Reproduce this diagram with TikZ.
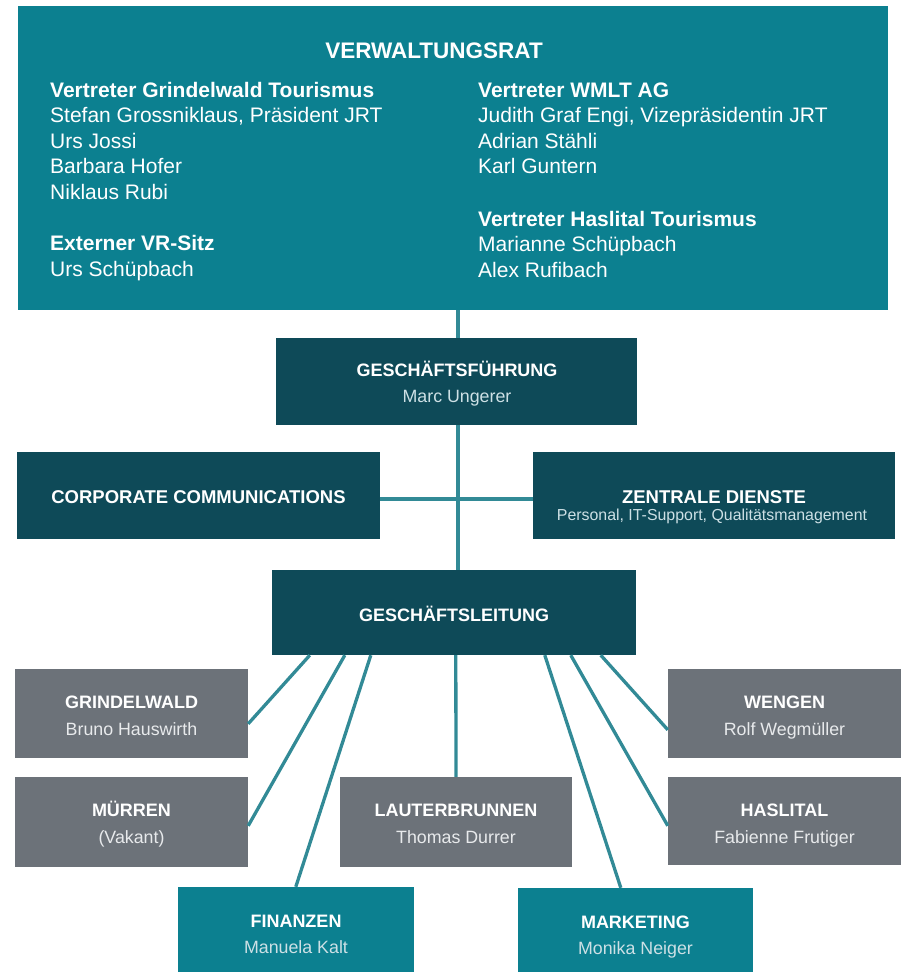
\documentclass[tikz,border=0pt]{standalone}
\usepackage{fontspec}
\setmainfont{Liberation Sans}
\usetikzlibrary{calc}
\definecolor{tealc}{RGB}{12,128,144}
\definecolor{darkc}{RGB}{14,74,88}
\definecolor{grayc}{RGB}{108,114,121}
\definecolor{linec}{RGB}{50,138,150}
\definecolor{subdark}{RGB}{205,224,229}
\definecolor{subgray}{RGB}{232,234,236}
\begin{document}
\begin{tikzpicture}[x=1pt,y=-1pt,
  box/.style={rectangle, inner sep=0pt, draw=none},
  bigbox/.style={box, minimum width=362pt, minimum height=87pt},
  smallbox/.style={box, minimum width=233pt, minimum height=89pt},
  conn/.style={draw=linec, line width=3.3pt},
  vrhead/.style={anchor=base, inner sep=0pt, text=white, font=\fontsize{22.5}{27}\selectfont\bfseries},
  vrbold/.style={anchor=base west, inner sep=0pt, text=white, font=\fontsize{21}{25}\selectfont\bfseries},
  vrtext/.style={anchor=base west, inner sep=0pt, text=white, font=\fontsize{21}{25}\selectfont},
  btitle/.style={anchor=base, inner sep=0pt, text=white, font=\fontsize{18}{22}\selectfont\bfseries},
  bsub/.style={anchor=base, inner sep=0pt, font=\fontsize{17.8}{22}\selectfont},
]
\useasboundingbox (0,0) rectangle (901,972);

% boxes
\node[box, fill=tealc, minimum width=870pt, minimum height=304pt] (vr) at (453,158) {};
\node[bigbox, fill=darkc, minimum width=361pt] (gf) at (456.5,381.5) {};
\node[bigbox, fill=darkc, minimum width=363pt] (cc) at (198.5,495.5) {};
\node[bigbox, fill=darkc] (zd) at (714,495.5) {};
\node[bigbox, fill=darkc, minimum width=364pt, minimum height=85pt] (gl) at (454,612.5) {};
\node[smallbox, fill=grayc] (grin) at (131.5,713.5) {};
\node[smallbox, fill=grayc, minimum height=90pt] (muer) at (131.5,822) {};
\node[smallbox, fill=grayc, minimum width=232pt, minimum height=90pt] (laut) at (456,822) {};
\node[smallbox, fill=grayc] (weng) at (784.5,713.5) {};
\node[smallbox, fill=grayc, minimum height=88pt] (hasl) at (784.5,821) {};
\node[smallbox, fill=tealc, minimum width=236pt, minimum height=95pt] (fin) at (296,934.5) {};
\node[smallbox, fill=tealc, minimum width=235pt, minimum height=95pt] (mark) at (635.5,935.5) {};

% connectors
\draw[conn] ($(vr.south)+(5,0)$) -- ($(gf.north)+(1.5,0)$);
\draw[conn] ($(gf.south)+(1.5,0)$) -- ($(gl.north)+(4,0)$);
\draw[conn] ($(cc.east)+(0,3.5)$) -- ($(zd.west)+(0,3.5)$);
\draw[conn] ($(gl.south west)+(38,0)$) -- ($(grin.north east)+(0,55)$);
\draw[conn] ($(gl.south west)+(73,0)$) -- ($(muer.north east)+(0,49)$);
\draw[conn] ($(gl.south west)+(99,0)$) -- ($(fin.north west)+(118,0)$);
\draw[conn] ($(gl.south west)+(184,0)$) -- (laut.north);
\draw[conn] ($(gl.south west)+(273,0)$) -- ($(mark.north west)+(103,0)$);
\draw[conn] ($(gl.south west)+(299,0)$) -- ($(hasl.north west)+(0,49)$);
\draw[conn] ($(gl.south west)+(329,0)$) -- ($(weng.north west)+(0,61)$);

% Verwaltungsrat texts
\node[vrhead] (vrt) at (434,58) {VERWALTUNGSRAT};
\node[vrbold] (l1) at (50,97) {Vertreter Grindelwald Tourismus};
\node[vrtext] (l2) at (50,122.5) {Stefan Grossniklaus, Präsident JRT};
\node[vrtext] (l3) at (50,148) {Urs Jossi};
\node[vrtext] (l4) at (50,173.5) {Barbara Hofer};
\node[vrtext] (l5) at (50,199) {Niklaus Rubi};
\node[vrbold] (l6) at (50,250.5) {Externer VR-Sitz};
\node[vrtext] (l7) at (50,276) {Urs Schüpbach};
\node[vrbold] (r1) at (478,97) {Vertreter WMLT AG};
\node[vrtext] (r2) at (478,122.5) {Judith Graf Engi, Vizepräsidentin JRT};
\node[vrtext] (r3) at (478,148) {Adrian Stähli};
\node[vrtext] (r4) at (478,173.5) {Karl Guntern};
\node[vrbold] (r5) at (478,226) {Vertreter Haslital Tourismus};
\node[vrtext] (r6) at (478,251.5) {Marianne Schüpbach};
\node[vrtext] (r7) at (478,277) {Alex Rufibach};

% box texts
\node[btitle] (gft) at (457,376) {GESCHÄFTSFÜHRUNG};
\node[bsub, text=subdark] (gfs) at (457,402) {Marc Ungerer};
\node[btitle, font=\fontsize{18.5}{22}\selectfont\bfseries] (cct) at (198.5,503) {CORPORATE COMMUNICATIONS};
\node[btitle, font=\fontsize{18.5}{22}\selectfont\bfseries] (zdt) at (714,503) {ZENTRALE DIENSTE};
\node[bsub, text=subdark, font=\fontsize{15.9}{19}\selectfont] (zds) at (712,520) {Personal, IT-Support, Qualitätsmanagement};
\node[btitle] (glt) at (454,621) {GESCHÄFTSLEITUNG};
\node[btitle] (grint) at (131.5,708.5) {GRINDELWALD};
\node[bsub, text=subgray] (grins) at (131.5,735) {Bruno Hauswirth};
\node[btitle] (muert) at (131.5,816.5) {MÜRREN};
\node[bsub, text=subgray] (muers) at (131.5,843) {(Vakant)};
\node[btitle] (lautt) at (456,816.5) {LAUTERBRUNNEN};
\node[bsub, text=subgray] (lauts) at (456,843) {Thomas Durrer};
\node[btitle] (wengt) at (784.5,708.5) {WENGEN};
\node[bsub, text=subgray] (wengs) at (784.5,735) {Rolf Wegmüller};
\node[btitle] (haslt) at (784.5,816.5) {HASLITAL};
\node[bsub, text=subgray] (hasls) at (784.5,843) {Fabienne Frutiger};
\node[btitle] (fint) at (296,927.5) {FINANZEN};
\node[bsub, text=subdark] (fins) at (296,953.5) {Manuela Kalt};
\node[btitle] (markt) at (635.5,928) {MARKETING};
\node[bsub, text=subdark] (marks) at (635.5,954) {Monika Neiger};
\end{tikzpicture}
\end{document}
